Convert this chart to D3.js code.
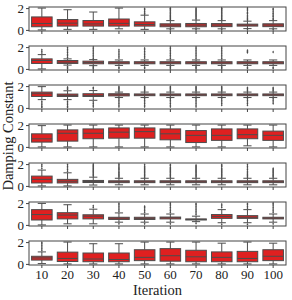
<!DOCTYPE html>
<html><head><meta charset="utf-8">
<script src="https://cdn.jsdelivr.net/npm/d3@7"></script>
<style>body{margin:0;background:#fff}svg{display:block}</style>
</head><body>
<svg id="c" width="292" height="300"></svg>
<script>
const iterations = ["10","20","30","40","50","60","70","80","90","100"];
const yTicks = [0, 2];
// per panel (7 rows) x per iteration (10)
const q1 = [
 [0.29,0.35,0.35,0.35,0.35,0.29,0.29,0.30,0.35,0.30],
 [0.50,0.50,0.47,0.47,0.47,0.47,0.47,0.47,0.47,0.47],
 [1.05,1.05,1.05,1.10,1.12,1.12,1.12,1.12,1.12,1.12],
 [0.44,0.53,0.75,0.80,0.80,0.65,0.40,0.60,0.75,0.60],
 [0.27,0.27,0.31,0.30,0.30,0.30,0.30,0.30,0.30,0.30],
 [0.45,0.55,0.55,0.50,0.50,0.55,0.45,0.60,0.60,0.55],
 [0.35,0.22,0.20,0.20,0.30,0.25,0.20,0.20,0.20,0.30]];
const med = [
 [0.59,0.62,0.55,0.60,0.50,0.44,0.44,0.45,0.45,0.45],
 [0.77,0.62,0.58,0.55,0.55,0.55,0.55,0.55,0.55,0.55],
 [1.30,1.15,1.15,1.20,1.20,1.20,1.20,1.20,1.20,1.20],
 [0.74,1.25,1.25,1.35,1.40,1.20,1.06,1.06,1.12,1.06],
 [0.60,0.43,0.40,0.38,0.38,0.38,0.38,0.38,0.38,0.38],
 [0.95,0.90,0.80,0.62,0.60,0.65,0.50,0.78,0.70,0.62],
 [0.55,0.50,0.45,0.40,0.60,0.75,0.65,0.60,0.50,0.70]];
const q3 = [
 [1.19,0.95,0.86,1.00,0.74,0.56,0.59,0.58,0.53,0.56],
 [0.92,0.77,0.71,0.66,0.66,0.66,0.66,0.66,0.66,0.66],
 [1.45,1.27,1.30,1.30,1.28,1.28,1.28,1.28,1.28,1.28],
 [1.20,1.56,1.65,1.74,1.74,1.65,1.50,1.65,1.65,1.45],
 [0.90,0.60,0.50,0.47,0.47,0.47,0.47,0.47,0.47,0.47],
 [1.40,1.12,0.93,0.70,0.70,0.72,0.55,0.95,0.85,0.70],
 [0.70,1.08,1.00,1.00,1.30,1.40,1.25,1.10,1.15,1.30]];
const whiskLo = [
 [0.00,0.05,0.05,0.10,0.05,0.10,0.10,0.10,0.12,0.10],
 [0.00,0.35,0.30,0.32,0.32,0.32,0.32,0.32,0.32,0.32],
 [0.76,0.76,0.70,0.95,0.95,0.95,0.95,0.95,0.95,0.95],
 [0.00,0.00,0.00,0.00,0.00,0.00,0.00,0.00,0.10,0.00],
 [0.00,0.00,0.08,0.10,0.10,0.10,0.10,0.10,0.10,0.10],
 [0.00,0.10,0.10,0.25,0.25,0.25,0.30,0.20,0.20,0.25],
 [0.03,0.00,0.00,0.00,0.00,0.00,0.00,0.00,0.00,0.00]];
const whiskHi = [
 [2.00,1.85,1.64,2.00,1.35,0.85,0.90,0.85,0.80,0.85],
 [1.31,0.92,0.85,0.82,0.82,0.82,0.82,0.82,0.82,0.82],
 [1.95,1.57,1.59,1.45,1.45,1.45,1.45,1.45,1.45,1.45],
 [1.95,2.00,2.00,2.00,2.00,2.00,2.00,2.00,2.00,2.00],
 [1.45,1.20,0.80,0.70,0.70,0.70,0.70,0.70,0.70,0.70],
 [1.97,1.85,1.44,1.10,1.00,1.00,0.80,1.40,1.40,1.00],
 [1.10,2.00,1.85,1.85,2.00,2.00,2.00,1.90,2.00,1.90]];
const fliers = [
 [[],[],[],[],[1.45,1.55,1.7,1.85,1.95],
  [0.95,1.05,1.15,1.25,1.35,1.45,1.55,1.65,1.75,1.85,1.95,2.0,0.02],
  [1.0,1.1,1.2,1.3,1.4,1.5,1.6,1.7,1.8,1.9,2.0,0.02],
  [0.95,1.05,1.15,1.25,1.35,1.45,1.55,1.65,1.75,1.85,1.95,2.0,0.02],
  [0.9,1.0,1.1,1.2,1.35,1.5,1.6,1.75,1.9,2.0,0.02],
  [0.95,1.05,1.2,1.3,1.45,1.55,1.7,1.85,1.95,0.02]],
 [[1.45,1.6,1.75],
  [1.05,1.2,1.35,1.5,1.65,1.8,1.95,0.2,0.1,0.02],
  [0.95,1.1,1.25,1.4,1.55,1.7,1.85,2.0,0.2,0.1,0.0],
  [1.0,1.15,1.3,1.45,1.6,1.75,0.15,0.05],
  [1.0,1.15,1.3,1.45,1.6,1.75,1.9,0.15,0.05],
  [0.95,1.1,1.25,1.4,1.55,1.7,1.85,2.0,0.2,0.1,0.0],
  [0.95,1.1,1.25,1.4,1.55,1.7,1.85,2.0,0.2,0.1,0.0],
  [0.95,1.1,1.25,1.4,1.55,1.7,1.85,2.0,0.2,0.1,0.0],
  [1.5,1.6,1.7,0.15,0.05],
  [1.55,0.15,0.05]],
 [[0.6,0.45,0.3,0.15,0.05],
  [1.7,1.8,1.9,0.6,0.45,0.3,0.15,0.05],
  [1.75,1.86,0.55,0.4,0.25,0.1],
  [1.55,1.65,1.75,1.85,1.95,0.85,0.7,0.55,0.4,0.25,0.1],
  [1.55,1.65,1.75,1.85,1.95,0.85,0.7,0.55,0.4,0.25,0.1],
  [1.55,1.65,1.75,1.85,1.95,0.85,0.7,0.55,0.4,0.25,0.1],
  [1.55,1.65,1.75,1.85,1.95,0.85,0.7,0.55,0.4,0.25,0.1],
  [1.55,1.65,1.75,1.85,1.95,0.85,0.7,0.55,0.4,0.25],
  [1.55,1.65,1.75,1.85,0.85,0.7,0.55,0.4,0.25],
  [1.55,1.65,1.75,1.85,0.85,0.7,0.55,0.4]],
 [[],[],[],[],[],[],[],[],[],[]],
 [[1.6,1.8,1.95],
  [1.35,1.5,1.65,1.8,1.95],
  [0.9,1.0,1.1,1.2,1.3,1.4,1.5,1.6,1.7,1.8,1.9,2.0],
  [0.8,0.9,1.0,1.1,1.2,1.3,1.45,1.55,1.65,1.75,1.9,2.0],
  [0.8,0.9,1.0,1.1,1.2,1.3,1.4,1.5,1.6,1.7,1.8,1.95],
  [0.8,0.9,1.0,1.1,1.2,1.3,1.4,1.5,1.6,1.7,1.85,1.95],
  [0.8,0.9,1.0,1.1,1.2,1.3,1.4,1.5,1.6,1.7,1.8,1.9],
  [0.8,0.9,1.0,1.1,1.2,1.3,1.4,1.5,1.6,1.75,1.85,1.95],
  [0.8,0.9,1.0,1.1,1.2,1.35,1.5,1.65,1.8,1.95],
  [0.8,0.9,1.0,1.1,1.2,1.3,1.4,1.5,1.6]],
 [[],
  [],
  [1.6,1.75],
  [1.25,1.4,1.55,1.7,1.85,1.97,0.1],
  [1.15,1.3,1.45,1.6,1.7,0.1],
  [1.15,1.3,1.45,1.6,1.75,1.9,2.0,0.1],
  [0.95,1.1,1.25,1.4,1.55,1.7,1.85,1.95,0.15],
  [1.6,1.75,1.9,0.05],
  [1.55,1.7,1.85,1.95,0.05],
  [1.15,1.3,1.45,1.6,1.75,1.9,2.0,0.1]],
 [[1.25,1.4,1.55,1.7,1.85,1.97],[],[],[],[],[],[],[],[],[]]];

const W = 292, H = 300;
const left = 29, right = 286, top0 = 7, gap = 39, ph = 24;
const boxFill = "#df2020", lineCol = "#4c4c4c", axisCol = "#444";
const font = "'Liberation Serif','DejaVu Serif',serif";

const svg = d3.select("#c");
const x = d3.scaleBand().domain(iterations).range([left, right]).padding(0);
const bw = x.bandwidth() * 0.8;
const capW = bw * 0.4;

q1.forEach((row, p) => {
  const top = top0 + p * gap;
  const y = d3.scaleLinear().domain([-0.1, 2.1]).range([top + ph, top]);
  const g = svg.append("g");
  // fliers
  fliers[p].forEach((vals, i) => {
    const cx = x(iterations[i]) + x.bandwidth() / 2;
    g.selectAll(null).data(vals).join("path")
      .attr("d", v => `M${cx},${y(v)-1.4}L${cx+0.9},${y(v)}L${cx},${y(v)+1.4}L${cx-0.9},${y(v)}Z`)
      .attr("fill", lineCol);
  });
  iterations.forEach((it, i) => {
    const cx = x(it) + x.bandwidth() / 2;
    // whiskers
    g.append("line").attr("x1", cx).attr("x2", cx).attr("y1", y(q3[p][i])).attr("y2", y(whiskHi[p][i]))
      .attr("stroke", lineCol).attr("stroke-width", 1);
    g.append("line").attr("x1", cx).attr("x2", cx).attr("y1", y(q1[p][i])).attr("y2", y(whiskLo[p][i]))
      .attr("stroke", lineCol).attr("stroke-width", 1);
    [whiskHi[p][i], whiskLo[p][i]].forEach(v => {
      g.append("line").attr("x1", cx - capW / 2).attr("x2", cx + capW / 2).attr("y1", y(v)).attr("y2", y(v))
        .attr("stroke", lineCol).attr("stroke-width", 1);
    });
    // box
    g.append("rect").attr("x", cx - bw / 2).attr("width", bw)
      .attr("y", y(q3[p][i])).attr("height", Math.max(0.5, y(q1[p][i]) - y(q3[p][i])))
      .attr("fill", boxFill).attr("stroke", lineCol).attr("stroke-width", 1);
    g.append("line").attr("x1", cx - bw / 2).attr("x2", cx + bw / 2).attr("y1", y(med[p][i])).attr("y2", y(med[p][i]))
      .attr("stroke", lineCol).attr("stroke-width", 1);
  });
  // frame
  g.append("rect").attr("x", left).attr("y", top).attr("width", right - left).attr("height", ph)
    .attr("fill", "none").attr("stroke", axisCol).attr("stroke-width", 1);
  // y axis
  const ya = svg.append("g").attr("transform", `translate(${left},0)`)
    .call(d3.axisLeft(y).tickValues(yTicks).tickSize(3).tickPadding(2).tickFormat(d3.format("d")));
  ya.select(".domain").remove();
  ya.selectAll("line").attr("stroke", axisCol);
  ya.selectAll("text").attr("font-family", font).attr("font-size", 13).attr("fill", "#222");
  // x ticks
  const xa = svg.append("g").attr("transform", `translate(0,${top + ph})`)
    .call(d3.axisBottom(x).tickSize(3).tickPadding(2));
  xa.select(".domain").remove();
  xa.selectAll("line").attr("stroke", axisCol);
  if (p < q1.length - 1) xa.selectAll("text").remove();
  else xa.selectAll("text").attr("font-family", font).attr("font-size", 13).attr("fill", "#222");
});

svg.append("text").attr("x", (left + right) / 2).attr("y", 295).attr("text-anchor", "middle")
  .attr("font-family", font).attr("font-size", 14.5).attr("fill", "#222").text("Iteration");
svg.append("text").attr("transform", `translate(13,${top0 + (6 * gap + ph) / 2}) rotate(-90)`)
  .attr("text-anchor", "middle").attr("font-family", font).attr("font-size", 14.5).attr("fill", "#222")
  .text("Damping Constant");
</script>
</body></html>
